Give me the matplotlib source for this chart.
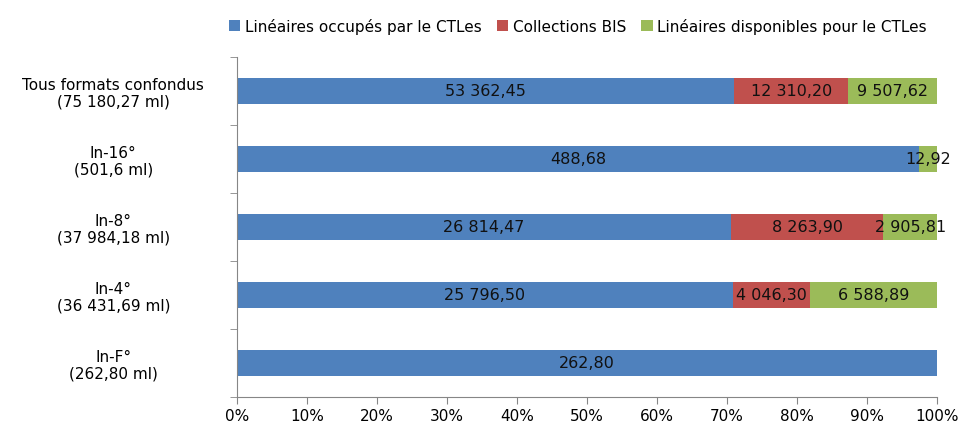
import numpy as np
from matplotlib import pyplot as plt
from matplotlib.ticker import PercentFormatter

categories = [
    "Tous formats confondus\n(75 180,27 ml)",
    "In-16°\n(501,6 ml)",
    "In-8°\n(37 984,18 ml)",
    "In-4°\n(36 431,69 ml)",
    "In-F°\n(262,80 ml)",
]
occupes = [53362.45, 488.68, 26814.47, 25796.50, 262.80]
collections_bis = [12310.20, 0.0, 8263.90, 4046.30, 0.0]
disponibles = [9507.62, 12.92, 2905.81, 6588.89, 0.0]

series_names = [
    "Linéaires occupés par le CTLes",
    "Collections BIS",
    "Linéaires disponibles pour le CTLes",
]
colors = ["#4F81BD", "#C0504D", "#9BBB59"]


def fr_number(v):
    # French format: space for thousands, comma for decimals
    s = f"{v:,.2f}"
    return s.replace(",", " ").replace(".", ",")


plt.rcParams["font.family"] = ["DejaVu Sans"]
plt.rcParams["font.size"] = 11

fig, ax = plt.subplots(figsize=(9.63, 4.27), dpi=100)
fig.subplots_adjust(left=0.246, right=0.973, top=0.865, bottom=0.068)

data = np.array([occupes, collections_bis, disponibles])
totals = data.sum(axis=0)
pct = data / totals * 100

y = np.arange(len(categories))[::-1]
left = np.zeros(len(categories))
for i, name in enumerate(series_names):
    bars = ax.barh(y, pct[i], left=left, height=0.38, color=colors[i], label=name)
    for j, b in enumerate(bars):
        if data[i][j] > 0:
            ax.text(left[j] + pct[i][j] / 2, y[j], fr_number(data[i][j]),
                    ha="center", va="center", fontsize=11.5, color="#111111")
    left += pct[i]

ax.set_xlim(0, 100)
ax.set_ylim(-0.5, len(categories) - 0.5)
ax.set_xticks(np.arange(0, 101, 10))
ax.xaxis.set_major_formatter(PercentFormatter(decimals=0))
ax.set_yticks(y)
ax.set_yticklabels(categories, ha="center", fontsize=11, linespacing=1.1)
ax.set_yticks(np.arange(-0.5, len(categories), 1), minor=True)
ax.tick_params(axis="y", which="major", length=0, pad=89)
ax.tick_params(axis="y", which="minor", length=5, color="#868686")
ax.tick_params(axis="x", length=5, color="#868686", labelsize=11, pad=3)

for side in ["top", "right"]:
    ax.spines[side].set_visible(False)
for side in ["left", "bottom"]:
    ax.spines[side].set_color("#868686")

ax.legend(loc="center", bbox_to_anchor=(0.487, 1.09), ncol=3, frameon=False,
          handlelength=0.75, handleheight=0.75, handletextpad=0.3, columnspacing=1.0,
          fontsize=11, borderaxespad=0)

fig.savefig("out.png", dpi=100)
